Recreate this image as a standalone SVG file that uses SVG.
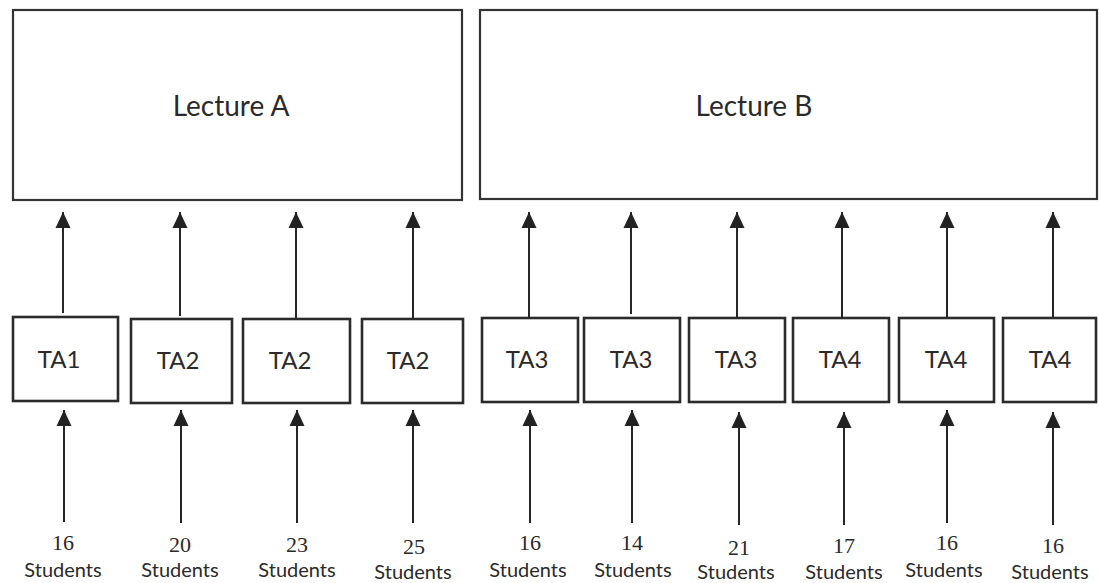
<svg xmlns="http://www.w3.org/2000/svg" width="1099" height="583" viewBox="0 0 1099 583">
  <style>
    .box { fill: #ffffff; stroke: #2b2b2b; stroke-width: 2.6; }
    .lec { fill: #ffffff; stroke: #333333; stroke-width: 2.2; }
    .sans { font-family: Lato, "Liberation Sans", sans-serif; fill: #2a2a2a; text-anchor: middle; }
    .lecture { font-size: 28px; }
    .ta { font-size: 24px; }
    .stu { font-size: 20px; }
    .num { font-family: "Liberation Serif", serif; font-size: 22px; fill: #2a2a2a; text-anchor: middle; }
    .arrow { stroke: #262626; stroke-width: 2; fill: none; marker-end: url(#head); }
  </style>
  <defs>
    <marker id="head" markerUnits="userSpaceOnUse" markerWidth="16" markerHeight="16" refX="16" refY="7.5" orient="auto" overflow="visible">
      <path d="M0,0 L16,7.5 L0,15 Z" fill="#222222"/>
    </marker>
  </defs>

  <rect width="1099" height="583" fill="#ffffff"/>

  <!-- lecture boxes -->
  <g id="lecture-a">
    <rect class="lec" x="13" y="10" width="449" height="190"/>
    <text class="sans lecture" x="231" y="116">Lecture A</text>
  </g>
  <g id="lecture-b">
    <rect class="lec" x="480" y="10" width="617" height="189"/>
    <text class="sans lecture" x="754" y="116">Lecture B</text>
  </g>

  <!-- TA boxes -->
  <g id="ta-1"><rect class="box" x="13" y="317" width="105" height="84"/><text class="sans ta" x="59" y="368">TA1</text></g>
  <g id="ta-2"><rect class="box" x="131" y="319" width="101" height="84"/><text class="sans ta" x="178" y="369">TA2</text></g>
  <g id="ta-3"><rect class="box" x="243" y="319" width="107" height="84"/><text class="sans ta" x="290" y="369">TA2</text></g>
  <g id="ta-4"><rect class="box" x="362" y="319" width="101" height="84"/><text class="sans ta" x="408" y="369">TA2</text></g>
  <g id="ta-5"><rect class="box" x="482" y="318" width="96" height="84"/><text class="sans ta" x="527" y="368">TA3</text></g>
  <g id="ta-6"><rect class="box" x="584" y="318" width="96" height="84"/><text class="sans ta" x="631" y="368">TA3</text></g>
  <g id="ta-7"><rect class="box" x="689" y="318" width="96" height="84"/><text class="sans ta" x="736" y="368">TA3</text></g>
  <g id="ta-8"><rect class="box" x="793" y="318" width="96" height="84"/><text class="sans ta" x="840" y="368">TA4</text></g>
  <g id="ta-9"><rect class="box" x="899" y="318" width="95" height="84"/><text class="sans ta" x="946" y="368">TA4</text></g>
  <g id="ta-10"><rect class="box" x="1003" y="318" width="93" height="84"/><text class="sans ta" x="1050" y="368">TA4</text></g>

  <!-- student groups -->
  <g id="students-1"><text class="num" x="63" y="550">16</text><text class="sans stu" x="63" y="577">Students</text></g>
  <g id="students-2"><text class="num" x="180" y="552">20</text><text class="sans stu" x="180" y="577">Students</text></g>
  <g id="students-3"><text class="num" x="297" y="552">23</text><text class="sans stu" x="297" y="577">Students</text></g>
  <g id="students-4"><text class="num" x="414" y="554">25</text><text class="sans stu" x="413" y="579">Students</text></g>
  <g id="students-5"><text class="num" x="530" y="550">16</text><text class="sans stu" x="528" y="577">Students</text></g>
  <g id="students-6"><text class="num" x="632" y="550">14</text><text class="sans stu" x="633" y="577">Students</text></g>
  <g id="students-7"><text class="num" x="739" y="555">21</text><text class="sans stu" x="736" y="579">Students</text></g>
  <g id="students-8"><text class="num" x="844" y="553">17</text><text class="sans stu" x="844" y="579">Students</text></g>
  <g id="students-9"><text class="num" x="947" y="550">16</text><text class="sans stu" x="944" y="577">Students</text></g>
  <g id="students-10"><text class="num" x="1053" y="553">16</text><text class="sans stu" x="1050" y="579">Students</text></g>

  <!-- connectors: TA to lecture, students to TA -->
  <g id="connectors">
    <line class="arrow" x1="63" y1="313" x2="63" y2="212"/>
    <line class="arrow" x1="180" y1="316" x2="180" y2="212"/>
    <line class="arrow" x1="296" y1="319" x2="296" y2="212"/>
    <line class="arrow" x1="413" y1="319" x2="413" y2="212"/>
    <line class="arrow" x1="529" y1="318" x2="529" y2="212"/>
    <line class="arrow" x1="631" y1="314" x2="631" y2="212"/>
    <line class="arrow" x1="737" y1="318" x2="737" y2="212"/>
    <line class="arrow" x1="842" y1="318" x2="842" y2="212"/>
    <line class="arrow" x1="947" y1="318" x2="947" y2="212"/>
    <line class="arrow" x1="1053" y1="318" x2="1053" y2="212"/>

    <line class="arrow" x1="64" y1="522" x2="64" y2="410"/>
    <line class="arrow" x1="181" y1="523" x2="181" y2="410"/>
    <line class="arrow" x1="297" y1="523" x2="297" y2="410"/>
    <line class="arrow" x1="413" y1="523" x2="413" y2="410"/>
    <line class="arrow" x1="530" y1="523" x2="530" y2="410"/>
    <line class="arrow" x1="632" y1="523" x2="632" y2="410"/>
    <line class="arrow" x1="739" y1="525" x2="739" y2="412"/>
    <line class="arrow" x1="844" y1="525" x2="844" y2="412"/>
    <line class="arrow" x1="947" y1="523" x2="947" y2="410"/>
    <line class="arrow" x1="1053" y1="525" x2="1053" y2="412"/>
  </g>
</svg>
